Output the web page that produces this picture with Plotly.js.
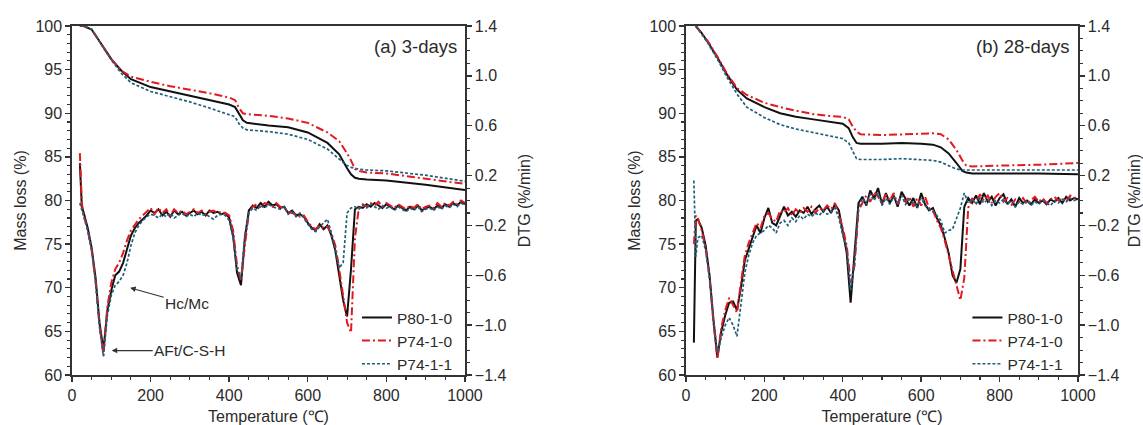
<!DOCTYPE html>
<html>
<head>
<meta charset="utf-8">
<script src="https://cdn.plot.ly/plotly-3.0.1.min.js"></script>
<style>html,body{margin:0;padding:0;background:#fff;}#chart{width:1143px;height:425px;}</style>
</head>
<body>
<div id="chart"></div>
<script>
// ---------- Data ----------
const seriesNames = ["P80-1-0", "P74-1-0", "P74-1-1"];
const xTickVals = [0, 200, 400, 600, 800, 1000];
const massTicks = [60, 65, 70, 75, 80, 85, 90, 95, 100];
const dtgTicks = [-1.4, -1.0, -0.6, -0.2, 0.2, 0.6, 1.0, 1.4];

// Mass loss, panel (a) 3-days
const tMassA = [20,30,50,75,100,125,150,200,250,300,350,400,415,425,435,445,475,500,550,600,650,680,700,710,720,730,750,800,900,1000];
const massA_P80_1_0 = [100,100,99.6,97.9,96.2,94.9,93.9,93.0,92.5,92.0,91.5,91.0,90.7,89.9,89.2,88.9,88.7,88.6,88.4,87.8,86.6,85.3,83.7,83.0,82.6,82.5,82.4,82.3,81.8,81.2];
const massA_P74_1_0 = [100,100,99.6,97.9,96.2,94.9,94.2,93.6,93.1,92.7,92.3,91.8,91.5,90.6,90.0,89.9,89.8,89.7,89.4,88.9,87.8,86.8,85.4,84.6,83.6,83.4,83.2,83.1,82.5,81.9];
const massA_P74_1_1 = [100,100,99.6,97.9,96.1,94.6,93.5,92.5,91.9,91.3,90.6,89.9,89.6,88.8,88.3,88.1,88.0,87.9,87.6,87.0,85.9,84.8,84.0,83.8,83.7,83.6,83.5,83.4,82.9,82.2];

// Mass loss, panel (b) 28-days
const tMassB = [25,40,55,80,105,130,155,200,240,280,325,365,400,415,425,435,445,500,550,600,630,650,670,690,705,715,730,800,900,1000];
const massB_P80_1_0 = [100,99.2,98.2,96.4,94.4,92.7,91.7,90.7,90.0,89.6,89.3,89.0,88.8,88.3,87.3,86.6,86.5,86.5,86.6,86.5,86.4,86.1,85.4,84.3,83.4,83.2,83.1,83.1,83.1,83.0];
const massB_P74_1_0 = [100,99.2,98.3,96.5,94.5,92.9,92.1,91.2,90.7,90.3,89.9,89.7,89.6,89.3,88.5,87.9,87.6,87.5,87.6,87.7,87.7,87.6,87.0,85.8,84.6,84.0,83.9,84.0,84.1,84.3];
const massB_P74_1_1 = [100,99.1,98.1,96.2,94.1,92.2,90.7,89.5,88.7,88.2,87.8,87.4,87.1,86.6,85.6,84.8,84.7,84.7,84.8,84.7,84.6,84.4,84.0,83.6,83.5,83.5,83.5,83.5,83.5,83.5];

// DTG temperature grid
const tDtg = [20,25,30,40,50,60,70,80,90,100,
  110,120,130,140,150,160,170,180,190,200,
  210,220,230,240,250,260,270,280,290,300,
  310,320,330,340,350,360,370,380,390,400,
  410,420,430,440,450,460,470,480,490,500,
  510,520,530,540,550,560,570,580,590,600,
  610,620,630,640,650,660,670,680,690,700,
  710,720,730,740,750,760,770,780,790,800,
  810,820,830,840,850,860,870,880,890,900,
  910,920,930,940,950,960,970,980,990,1000];

// DTG, panel (a)
const dtgA_P80_1_0 = [0.30,-0.05,-0.10,-0.22,-0.38,-0.62,-0.98,-1.20,-0.88,-0.72,
  -0.60,-0.57,-0.50,-0.40,-0.28,-0.22,-0.18,-0.15,-0.12,-0.08,
  -0.10,-0.07,-0.12,-0.09,-0.13,-0.08,-0.11,-0.09,-0.12,-0.10,
  -0.08,-0.11,-0.09,-0.12,-0.08,-0.10,-0.09,-0.11,-0.10,-0.14,
  -0.28,-0.58,-0.68,-0.30,-0.08,-0.04,-0.06,-0.02,-0.05,-0.01,
  -0.04,-0.03,-0.06,-0.05,-0.10,-0.08,-0.12,-0.11,-0.13,-0.18,
  -0.22,-0.24,-0.19,-0.23,-0.20,-0.28,-0.40,-0.60,-0.80,-0.93,
  -0.55,-0.07,-0.05,-0.06,-0.03,-0.05,-0.02,-0.04,-0.06,-0.03,
  -0.05,-0.07,-0.04,-0.06,-0.08,-0.05,-0.07,-0.04,-0.08,-0.06,
  -0.05,-0.07,-0.04,-0.06,-0.03,-0.05,-0.02,-0.04,-0.01,-0.03];
const dtgA_P74_1_0 = [0.38,-0.02,-0.12,-0.24,-0.40,-0.65,-1.00,-1.24,-0.85,-0.66,
  -0.55,-0.50,-0.42,-0.32,-0.24,-0.19,-0.15,-0.12,-0.09,-0.06,
  -0.11,-0.06,-0.10,-0.07,-0.12,-0.07,-0.10,-0.08,-0.11,-0.09,
  -0.07,-0.10,-0.08,-0.11,-0.09,-0.08,-0.10,-0.09,-0.10,-0.12,
  -0.24,-0.52,-0.64,-0.36,-0.10,-0.05,-0.03,-0.05,-0.02,-0.03,
  -0.05,-0.02,-0.05,-0.06,-0.09,-0.10,-0.11,-0.13,-0.12,-0.17,
  -0.21,-0.23,-0.20,-0.22,-0.21,-0.26,-0.36,-0.55,-0.76,-0.98,
  -1.06,-0.30,-0.06,-0.03,-0.05,-0.02,-0.04,-0.01,-0.05,-0.02,
  -0.04,-0.06,-0.03,-0.05,-0.07,-0.04,-0.06,-0.03,-0.07,-0.05,
  -0.04,-0.06,-0.02,-0.05,-0.02,-0.04,-0.01,-0.03,0.00,-0.02];
const dtgA_P74_1_1 = [-0.02,-0.08,-0.12,-0.24,-0.40,-0.66,-1.02,-1.25,-0.92,-0.76,
  -0.68,-0.65,-0.60,-0.50,-0.36,-0.26,-0.20,-0.16,-0.13,-0.11,
  -0.12,-0.14,-0.11,-0.13,-0.10,-0.14,-0.12,-0.10,-0.13,-0.11,
  -0.13,-0.10,-0.12,-0.11,-0.13,-0.15,-0.12,-0.11,-0.12,-0.16,
  -0.30,-0.56,-0.62,-0.28,-0.10,-0.06,-0.08,-0.04,-0.06,-0.03,
  -0.05,-0.06,-0.07,-0.05,-0.11,-0.09,-0.13,-0.10,-0.14,-0.19,
  -0.23,-0.25,-0.21,-0.18,-0.15,-0.26,-0.40,-0.54,-0.50,-0.10,
  -0.06,-0.05,-0.07,-0.04,-0.06,-0.03,-0.05,-0.07,-0.04,-0.06,
  -0.05,-0.08,-0.05,-0.07,-0.09,-0.06,-0.08,-0.05,-0.09,-0.07,
  -0.06,-0.08,-0.05,-0.07,-0.04,-0.06,-0.03,-0.05,-0.02,-0.04];

// DTG, panel (b)
const dtgB_P80_1_0 = [-1.14,-0.16,-0.15,-0.22,-0.36,-0.60,-0.96,-1.26,-1.05,-0.92,
  -0.82,-0.81,-0.88,-0.70,-0.48,-0.38,-0.30,-0.20,-0.26,-0.14,
  -0.06,-0.18,-0.20,-0.12,-0.05,-0.12,-0.09,-0.13,-0.08,-0.10,
  -0.05,-0.11,-0.07,-0.04,-0.09,-0.05,-0.10,-0.03,-0.08,-0.25,
  -0.42,-0.82,-0.42,-0.02,0.03,-0.04,0.08,0.02,0.10,-0.03,
  0.06,-0.02,0.04,-0.05,0.07,0.01,-0.04,0.02,-0.06,0.06,
  -0.03,-0.08,-0.06,-0.14,-0.20,-0.30,-0.42,-0.60,-0.66,-0.55,
  -0.05,0.02,-0.02,0.04,-0.03,0.06,-0.01,0.03,-0.04,0.02,
  0.05,-0.03,0.01,-0.05,0.02,-0.02,0.00,-0.03,0.01,-0.02,
  0.00,-0.03,0.01,-0.01,0.02,-0.02,0.03,0.00,0.02,0.01];
const dtgB_P74_1_0 = [-0.35,-0.12,-0.14,-0.24,-0.38,-0.62,-0.98,-1.27,-1.02,-0.88,
  -0.78,-0.84,-0.90,-0.66,-0.44,-0.34,-0.26,-0.18,-0.22,-0.12,
  -0.10,-0.15,-0.17,-0.08,-0.10,-0.06,-0.12,-0.07,-0.10,-0.06,
  -0.09,-0.05,-0.10,-0.06,-0.08,-0.04,-0.07,-0.02,-0.12,-0.22,
  -0.36,-0.66,-0.52,-0.08,-0.02,0.04,-0.01,0.07,0.03,-0.02,
  0.05,0.00,0.06,-0.03,0.04,-0.01,0.03,-0.05,0.02,-0.04,
  0.03,-0.06,-0.08,-0.16,-0.22,-0.32,-0.44,-0.56,-0.70,-0.80,
  -0.62,-0.06,0.02,-0.02,0.05,0.00,0.04,-0.02,0.03,0.06,
  -0.01,0.02,-0.04,0.01,-0.01,0.02,-0.03,0.00,0.03,-0.01,
  0.02,-0.02,0.01,0.03,0.00,0.02,-0.01,0.04,0.02,0.03];
const dtgB_P74_1_1 = [0.16,-0.45,-0.30,-0.28,-0.40,-0.62,-0.95,-1.22,-1.10,-1.00,
  -0.94,-1.00,-1.09,-0.82,-0.58,-0.44,-0.34,-0.28,-0.26,-0.24,
  -0.20,-0.22,-0.26,-0.18,-0.16,-0.20,-0.14,-0.17,-0.12,-0.15,
  -0.11,-0.13,-0.10,-0.12,-0.08,-0.11,-0.09,-0.06,-0.14,-0.28,
  -0.38,-0.72,-0.50,-0.06,0.02,-0.03,0.05,0.00,0.06,-0.04,
  0.02,-0.03,0.03,-0.02,0.04,-0.03,0.01,-0.02,-0.05,0.02,
  -0.04,-0.07,-0.09,-0.12,-0.16,-0.26,-0.24,-0.23,-0.14,-0.06,
  0.06,-0.02,0.01,-0.03,0.02,-0.02,0.01,-0.04,0.00,-0.02,
  0.01,-0.03,0.00,-0.05,-0.01,-0.03,0.00,-0.04,-0.01,-0.03,
  0.00,-0.02,-0.04,0.00,-0.02,0.01,-0.01,0.02,0.00,0.01];

// ---------- Styles ----------
const FONT = "Arial, 'Liberation Sans', sans-serif";
const TXT = "#2b2b2b";
const styles = [
  {color: "#111111", width: 2, dash: "solid"},
  {color: "#e3191f", width: 2, dash: "8px,3px,2px,3px"},
  {color: "#1f5f7c", width: 1.7, dash: "3px,2px"}
];

function tr(x, y, i, xa, ya, legend, show) {
  return {x: x, y: y, type: "scatter", mode: "lines", name: seriesNames[i],
    xaxis: xa, yaxis: ya, line: Object.assign({}, styles[i]),
    legend: legend, showlegend: show, hoverinfo: "skip"};
}

const data = [
  tr(tDtg, dtgA_P80_1_0, 0, "x", "y2", "legend", false),
  tr(tDtg, dtgA_P74_1_0, 1, "x", "y2", "legend", false),
  tr(tDtg, dtgA_P74_1_1, 2, "x", "y2", "legend", false),
  tr(tMassA, massA_P80_1_0, 0, "x", "y", "legend", true),
  tr(tMassA, massA_P74_1_0, 1, "x", "y", "legend", true),
  tr(tMassA, massA_P74_1_1, 2, "x", "y", "legend", true),
  tr(tDtg, dtgB_P80_1_0, 0, "x2", "y4", "legend2", false),
  tr(tDtg, dtgB_P74_1_0, 1, "x2", "y4", "legend2", false),
  tr(tDtg, dtgB_P74_1_1, 2, "x2", "y4", "legend2", false),
  tr(tMassB, massB_P80_1_0, 0, "x2", "y3", "legend2", true),
  tr(tMassB, massB_P74_1_0, 1, "x2", "y3", "legend2", true),
  tr(tMassB, massB_P74_1_1, 2, "x2", "y3", "legend2", true)
];

const axisCommon = {
  showline: true, linecolor: "#333333", linewidth: 1.7,
  ticks: "outside", ticklen: 5, tickwidth: 1.4, tickcolor: "#333333",
  showgrid: false, zeroline: false,
  tickfont: {family: FONT, size: 16, color: TXT}
};
const titleFont = {family: FONT, size: 16, color: TXT};

function xAxis(domain, anchor) {
  return Object.assign({}, axisCommon, {
    domain: domain, anchor: anchor, range: [0, 1000], tickvals: xTickVals,
    mirror: true,
    minor: {dtick: 50, tick0: 0, ticks: "outside", ticklen: 3, tickcolor: "#333333", tickwidth: 1.1},
    title: {text: "Temperature (℃)", font: titleFont, standoff: 15}
  });
}
function yMass(anchor) {
  return Object.assign({}, axisCommon, {
    domain: [0.1176, 0.9388], anchor: anchor, range: [60, 100], tickvals: massTicks,
    minor: {dtick: 1, tick0: 60, ticks: "outside", ticklen: 3, tickcolor: "#333333", tickwidth: 1.1},
    title: {text: "Mass loss (%)", font: titleFont, standoff: 5}
  });
}
function yDtg(anchor, over) {
  return Object.assign({}, axisCommon, {
    anchor: anchor, overlaying: over, side: "right", range: [-1.4, 1.4],
    tickvals: dtgTicks, tickformat: ".1f",
    minor: {dtick: 0.1, tick0: -1.4, ticks: "outside", ticklen: 3, tickcolor: "#333333", tickwidth: 1.1},
    title: {text: "DTG (%/min)", font: titleFont, standoff: 13}
  });
}

const legendCommon = {
  bgcolor: "rgba(0,0,0,0)", borderwidth: 0, xanchor: "left", yanchor: "top",
  font: {family: FONT, size: 15.5, color: TXT}, tracegroupgap: 0, itemwidth: 30
};

const arrowFont = {family: FONT, size: 15.5, color: TXT};
const layout = {
  width: 1143, height: 425,
  margin: {l: 0, r: 0, t: 0, b: 0},
  paper_bgcolor: "#ffffff", plot_bgcolor: "#ffffff",
  showlegend: true,
  xaxis: xAxis([0.0630, 0.4068], "y"),
  yaxis: yMass("x"),
  yaxis2: yDtg("x", "y"),
  xaxis2: xAxis([0.6002, 0.9431], "y3"),
  yaxis3: yMass("x2"),
  yaxis4: yDtg("x2", "y3"),
  legend: Object.assign({}, legendCommon, {x: 0.3123, y: 0.292}),
  legend2: Object.assign({}, legendCommon, {x: 0.8464, y: 0.292}),
  annotations: [
    {xref: "x", yref: "y", x: 985, y: 97.6, text: "(a) 3-days", showarrow: false,
     xanchor: "right", yanchor: "middle", font: {family: FONT, size: 18.5, color: TXT}},
    {xref: "x2", yref: "y3", x: 985, y: 97.6, text: "(b) 28-days", showarrow: false,
     xanchor: "right", yanchor: "middle", font: {family: FONT, size: 18.5, color: TXT}},
    {xref: "x", yref: "y", x: 148, y: 70.0, text: "Hc/Mc", showarrow: true,
     ax: 57, ay: 16, arrowhead: 2, arrowsize: 1, arrowwidth: 1.1, arrowcolor: "#333333",
     font: arrowFont, standoff: 0},
    {xref: "x", yref: "y", x: 101, y: 62.8, text: "AFt/C-S-H", showarrow: true,
     ax: 78, ay: 0, arrowhead: 2, arrowsize: 1, arrowwidth: 1.1, arrowcolor: "#333333",
     font: arrowFont, standoff: 0}
  ]
};

Plotly.newPlot("chart", data, layout, {displayModeBar: false, staticPlot: true});
</script>
</body>
</html>
